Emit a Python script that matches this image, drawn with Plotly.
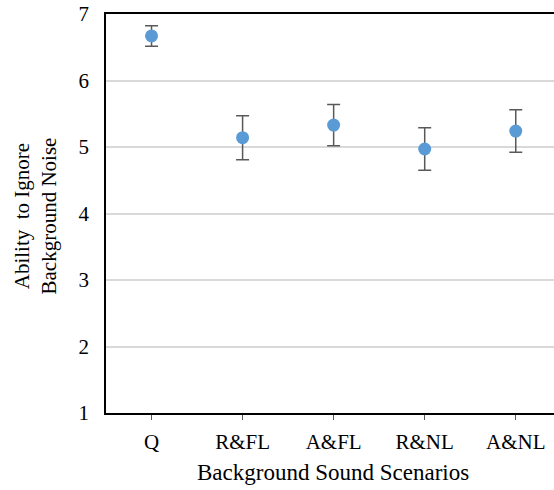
import plotly.graph_objects as go

categories = ["Q", "R&FL", "A&FL", "R&NL", "A&NL"]
means = [6.67, 5.14, 5.33, 4.97, 5.24]
errors = [0.155, 0.33, 0.31, 0.32, 0.32]
y_ticks = [1, 2, 3, 4, 5, 6, 7]
x_title = "Background Sound Scenarios"
y_title = "Ability  to Ignore<br>Background Noise"

font_family = "Liberation Serif, Times New Roman, serif"

fig = go.Figure()
fig.add_trace(go.Scatter(
    x=categories, y=means, mode="markers",
    marker=dict(color="#5B9BD5", size=13),
    error_y=dict(type="data", array=errors, visible=True,
                 color="#595959", thickness=1.5, width=6.5),
    showlegend=False,
))

fig.update_layout(
    width=554, height=490,
    margin=dict(l=106, r=0, t=14, b=77, autoexpand=False),
    paper_bgcolor="white", plot_bgcolor="white",
    font=dict(family=font_family, size=21, color="black"),
)
fig.update_xaxes(
    type="category", range=[-0.5, 4.42], automargin=False,
    showline=True, linecolor="black", linewidth=1.5, mirror=True,
    ticks="outside", ticklen=5, tickcolor="#595959",
    tickfont=dict(size=21), ticklabelstandoff=4,
    showgrid=False, ticklabeloverflow="allow",
)
fig.update_yaxes(
    range=[1, 7], tickvals=y_ticks, automargin=False,
    showline=True, linecolor="black", linewidth=1.5, mirror=False,
    showgrid=True, gridcolor="#D9D9D9", gridwidth=1.5,
    tickfont=dict(size=21), ticks="", ticklabelstandoff=11,
    zeroline=False, ticklabeloverflow="allow",
)

fig.add_annotation(
    text=x_title, xref="paper", yref="paper", x=0.5, y=0,
    xshift=3, yshift=-59, showarrow=False, font=dict(size=23),
    xanchor="center", yanchor="middle",
)
fig.add_annotation(
    text=y_title, xref="paper", yref="paper", x=0, y=0.5,
    xshift=-71, yshift=-3, showarrow=False, textangle=-90,
    font=dict(size=21), xanchor="center", yanchor="middle",
)

fig.write_html(
    "out.html",
    config={"displayModeBar": False},
    post_script="document.body.style.margin='0';document.body.style.overflow='hidden';",
)
